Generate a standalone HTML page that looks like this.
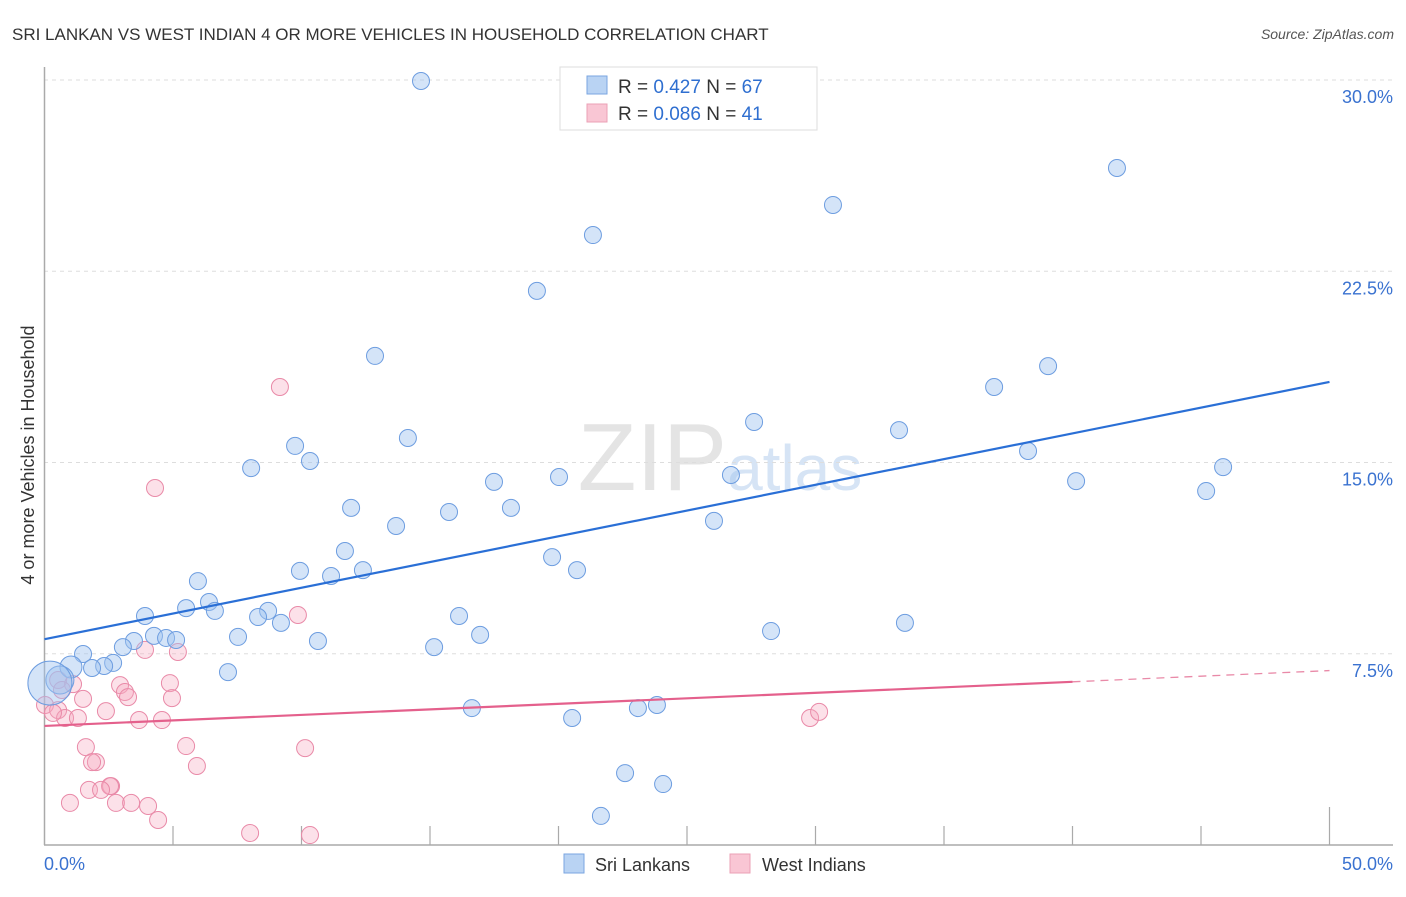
<!DOCTYPE html>
<html><head><meta charset="utf-8"><style>
body{margin:0;background:#fff;font-family:"Liberation Sans",sans-serif}
svg text{font-family:"Liberation Sans",sans-serif}
</style></head><body>
<svg id="chart" width="1406" height="892" viewBox="0 0 1406 892" xmlns="http://www.w3.org/2000/svg">
<text x="12" y="40" font-size="17" fill="#333">SRI LANKAN VS WEST INDIAN 4 OR MORE VEHICLES IN HOUSEHOLD CORRELATION CHART</text>
<text x="1394" y="39" font-size="14" fill="#555" font-style="italic" text-anchor="end">Source: ZipAtlas.com</text>
<text x="720" y="490" font-size="96" fill="#e4e4e4" text-anchor="middle" font-family="Liberation Serif"><tspan>ZIP</tspan><tspan font-family="Liberation Sans" font-size="64" fill="#d6e4f5">atlas</tspan></text>
<text transform="translate(34,455) rotate(-90)" font-size="18" fill="#333" text-anchor="middle">4 or more Vehicles in Household</text>
<g id="grid"></g><g id="axes"></g><g id="pts"></g><g id="lines"></g>
<g>
<rect x="560" y="67" width="257" height="63" fill="#fff" stroke="#ddd"/>
<rect x="587" y="76" width="20" height="18" fill="#b9d3f3" stroke="#7aa6e0"/>
<rect x="587" y="104" width="20" height="18" fill="#f9c6d4" stroke="#eba0b6"/>
<text x="618" y="93" font-size="19" fill="#333">R = <tspan fill="#2f6fd0">0.427</tspan>   N = <tspan fill="#2f6fd0">67</tspan></text>
<text x="618" y="120" font-size="19" fill="#333">R = <tspan fill="#2f6fd0">0.086</tspan>   N = <tspan fill="#2f6fd0">41</tspan></text>
</g>
<g>
<rect x="564" y="854" width="20" height="19" fill="#b9d3f3" stroke="#7aa6e0"/>
<text x="595" y="871" font-size="18" fill="#333">Sri Lankans</text>
<rect x="730" y="854" width="20" height="19" fill="#f9c6d4" stroke="#eba0b6"/>
<text x="762" y="871" font-size="18" fill="#333">West Indians</text>
</g>
</svg>
<script>
const yTicks=[7.5,15,22.5,30];
const yTickLabels=["7.5%","15.0%","22.5%","30.0%"];
const xTickLabels=["0.0%","50.0%"];
const blueX=[14.65,41.73,30.68,21.34,19.16,12.86,39.05,36.95,27.61,33.25,14.14,38.27,9.75,10.33,8.04,45.86,20.02,26.71,17.49,40.14,45.2,11.93,15.74,18.15,13.68,26.05,11.69,19.75,9.94,11.15,12.39,20.72,5.97,6.4,5.51,3.91,6.63,8.7,8.31,16.13,9.2,33.48,28.27,4.26,4.73,5.12,3.48,7.53,10.64,16.95,3.05,15.16,1.5,2.67,2.32,1.85,1.03,7.14,0.6,0.21,16.63,23.83,23.09,20.53,22.59,24.07,21.65];
const blueY=[29.96,26.55,25.1,23.92,21.73,19.18,18.78,17.96,16.59,16.27,15.96,15.45,15.65,15.06,14.78,14.82,14.43,14.51,14.24,14.27,13.88,13.22,13.06,13.22,12.51,12.71,11.53,11.29,10.75,10.55,10.78,10.78,10.35,9.53,9.29,8.98,9.18,9.18,8.94,8.98,8.71,8.71,8.39,8.2,8.12,8.04,8.0,8.16,8.0,8.24,7.76,7.76,7.49,7.14,7.02,6.94,6.98,6.78,6.47,6.35,5.37,5.49,5.37,4.98,2.82,2.39,1.14];
const pinkX=[9.16,4.3,9.86,3.91,5.19,0.53,1.11,4.88,2.94,3.13,1.5,3.25,4.96,0.02,0.53,2.39,0.8,1.3,3.68,4.57,29.79,30.14,5.51,1.61,10.14,2.0,1.85,5.93,2.59,2.55,1.73,2.2,0.99,2.78,3.37,4.03,4.42,8.0,10.33,0.33,0.68];
const pinkY=[17.96,14.0,9.02,7.65,7.57,6.47,6.31,6.35,6.27,6.0,5.73,5.8,5.76,5.49,5.29,5.25,4.98,4.98,4.9,4.9,4.98,5.22,3.88,3.84,3.8,3.25,3.25,3.1,2.31,2.31,2.16,2.16,1.65,1.65,1.65,1.53,0.98,0.47,0.39,5.18,6.08];
const blueTrend=[[0,8.07],[50,18.16]];
const pinkTrend=[[0,4.67],[40,6.4],[50,6.84]];
const NS="http://www.w3.org/2000/svg";
const sx=v=>44.5+v*25.7, sy=v=>845-v*25.5;
function mk(tag,attrs,parent){const e=document.createElementNS(NS,tag);for(const k in attrs)e.setAttribute(k,attrs[k]);document.getElementById(parent).appendChild(e);return e;}
yTicks.forEach((t,i)=>{
 const g=mk('line',{x1:44,x2:1393,y1:sy(t),y2:sy(t),stroke:'#ddd','stroke-dasharray':'4,4'},'grid');
 
 
 const tx=mk('text',{x:1393,y:sy(t)+23,'font-size':18,fill:'#3a72d0','text-anchor':'end'},'axes');
 tx.textContent=yTickLabels[i];
 
 
});
let a=mk('line',{x1:44.5,x2:44.5,y1:67,y2:845,stroke:'#aaa','stroke-width':1.5},'axes');


a=mk('line',{x1:44,x2:1393,y1:845,y2:845,stroke:'#aaa','stroke-width':1.5},'axes');


for(let v=5;v<=50;v+=5){
 const t=mk('line',{x1:sx(v),x2:sx(v),y1:v==50?807:826,y2:845,stroke:'#aaa','stroke-width':1.2},'axes');
 
 
}
[[0,'start',44],[50,'end',1393]].forEach((d,i)=>{
 const t=mk('text',{x:d[2],y:870,'font-size':18,fill:'#3a72d0','text-anchor':d[1]},'axes');
 t.textContent=xTickLabels[i];
 
 
});
pinkX.forEach((x,i)=>{
 const c=mk('circle',{cx:sx(x),cy:sy(pinkY[i]),r:8.5,fill:'rgba(246,168,192,0.35)',stroke:'#e98aa8','stroke-width':1},'pts');
 
 
});
blueX.forEach((x,i)=>{
 const r=i==59?22:i==58?14:i==56?11:8.5;
 const c=mk('circle',{cx:sx(x),cy:sy(blueY[i]),r:r,fill:'rgba(160,195,240,0.45)',stroke:'#6d9de0','stroke-width':1},'pts');
 
 
});
let l=mk('line',{x1:sx(blueTrend[0][0]),y1:sy(blueTrend[0][1]),x2:sx(blueTrend[1][0]),y2:sy(blueTrend[1][1]),stroke:'#2a6fd6','stroke-width':2.2},'lines');


l=mk('line',{x1:sx(pinkTrend[0][0]),y1:sy(pinkTrend[0][1]),x2:sx(pinkTrend[1][0]),y2:sy(pinkTrend[1][1]),stroke:'#e4608c','stroke-width':2.2},'lines');


l=mk('line',{x1:sx(pinkTrend[1][0]),y1:sy(pinkTrend[1][1]),x2:sx(pinkTrend[2][0]),y2:sy(pinkTrend[2][1]),stroke:'#e98aa8','stroke-width':1.3,'stroke-dasharray':'8,6'},'lines');


</script>
</body></html>
